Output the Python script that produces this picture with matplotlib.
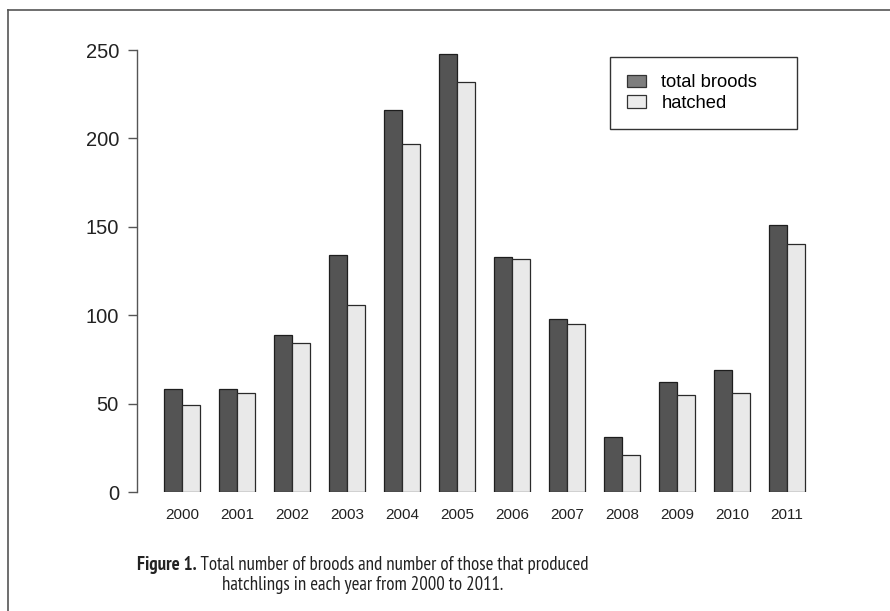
import numpy as np
import matplotlib
matplotlib.use('Agg')
import matplotlib.pyplot as plt
from matplotlib.patches import Patch
from matplotlib.lines import Line2D

years = ['2000', '2001', '2002', '2003', '2004', '2005',
         '2006', '2007', '2008', '2009', '2010', '2011']
total_broods = [58, 58, 89, 134, 216, 248, 133, 98, 31, 62, 69, 151]
hatched = [49, 56, 84, 106, 197, 232, 132, 95, 21, 55, 56, 140]

plt.rcParams['font.family'] = ['Liberation Sans', 'DejaVu Sans']
cap_font = ['PT Sans Narrow', 'Liberation Sans', 'DejaVu Sans']

W, H = 890, 611
fig = plt.figure(figsize=(W/100, H/100), dpi=100)

# axes placed in pixel terms of the reference
ax = fig.add_axes([137/W, 1 - 492/H, (840-137)/W, (492-50)/H])

x = np.arange(len(years))
bw = 0.327
ax.bar(x - bw/2, total_broods, bw, color='#545454', edgecolor='#1e1e1e', linewidth=0.9)
ax.bar(x + bw/2, hatched, bw, color='#e9e9e9', edgecolor='#2a2a2a', linewidth=0.9)

ax.set_xlim(-0.818, 11.96)
ax.set_ylim(0, 250)
ax.set_yticks([0, 50, 100, 150, 200, 250])
ax.set_xticks(x)
ax.set_xticklabels(years, fontsize=11, color='#222222')
ax.tick_params(axis='x', length=0, pad=11.5)
ax.tick_params(axis='y', length=6.5, width=1.0, color='#555555', pad=6.5,
               labelsize=14.5, labelcolor='#222222')
for s in ['top', 'right', 'bottom']:
    ax.spines[s].set_visible(False)
ax.spines['left'].set_color('#555555')
ax.spines['left'].set_linewidth(1.0)

handles = [Patch(facecolor='#7e7e7e', edgecolor='#333333', linewidth=0.9),
           Patch(facecolor='#ececec', edgecolor='#333333', linewidth=0.9)]
leg = fig.legend(handles, ['total broods', 'hatched'], loc='upper left',
                 bbox_to_anchor=(610/W, 1 - 129/H, 187/W, 72/H), mode='expand',
                 fontsize=13.2, frameon=True, fancybox=False, framealpha=1,
                 edgecolor='#333333', borderpad=0.95, borderaxespad=0,
                 handlelength=1.0, handleheight=0.7, handletextpad=0.85,
                 labelspacing=0.2)
leg.get_frame().set_linewidth(1.0)

# border of the figure panel (left and top only)
fig.add_artist(Line2D([8/W, 8/W], [0, 1 - 10/H], color='#555555', lw=1.2))
fig.add_artist(Line2D([8/W, 1], [1 - 10/H, 1 - 10/H], color='#555555', lw=1.2))

# caption
t1 = fig.text(137/W, 1 - 570/H, 'Figure 1.', fontsize=13.6, weight='bold',
              family=cap_font, color='#222222', ha='left', va='baseline')
ax.annotate(' Total number of broods and number of those that produced',
            xy=(1, 0), xycoords=t1, ha='left', va='bottom', fontsize=13.6,
            family=cap_font, color='#222222', annotation_clip=False)
fig.text(363/W, 1 - 590/H, 'hatchlings in each year from 2000 to 2011.',
         fontsize=13.6, family=cap_font, color='#222222',
         ha='center', va='baseline')

fig.savefig('out.png', dpi=100)
